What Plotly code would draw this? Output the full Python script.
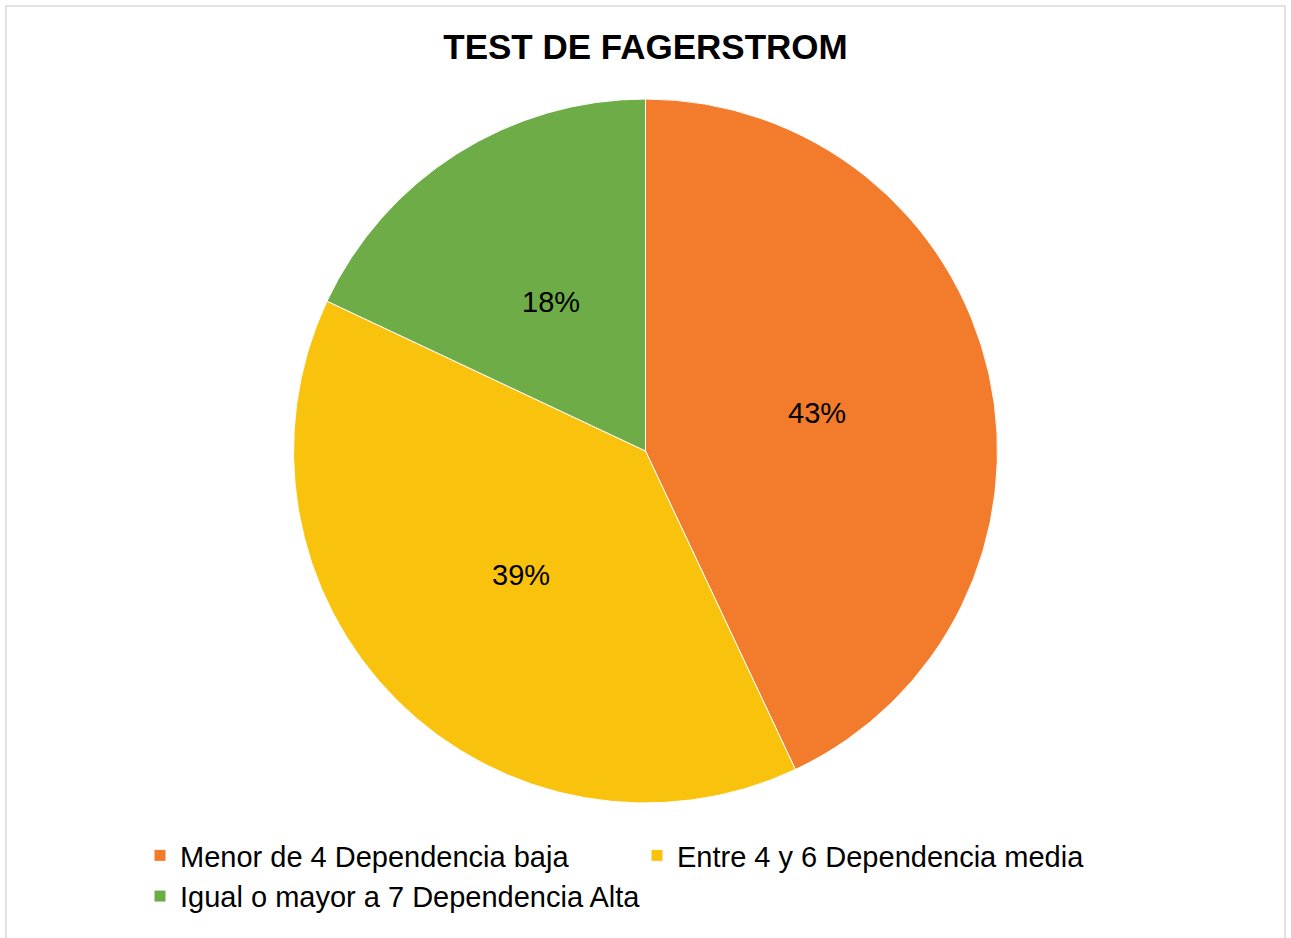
import math
import plotly.graph_objects as go

# Data
categories = ["Menor de 4 Dependencia baja", "Entre 4 y 6 Dependencia media", "Igual o mayor a 7 Dependencia Alta"]
values = [43, 39, 18]
colors = ["#F27B2C", "#F9C20C", "#6DAC46"]
title_text = "TEST DE FAGERSTROM"

W, H = 1291, 938
FONT = "Liberation Sans, Arial, sans-serif"

# pie geometry (paper fractions)
dom_y = [(H - 803) / H, (H - 99) / H]
cx, cy = 0.5, (dom_y[0] + dom_y[1]) / 2
R_px = (dom_y[1] - dom_y[0]) * H / 2

fig = go.Figure(
    go.Pie(
        labels=categories,
        values=values,
        sort=False,
        direction="clockwise",
        rotation=0,
        marker=dict(colors=colors, line=dict(color="white", width=1)),
        textinfo="none",
        domain=dict(x=[0, 1], y=dom_y),
        hoverinfo="label+percent",
    )
)

# percentage labels placed at half radius on each slice's mid-angle
total = sum(values)
annotations = []
cum = 0
for v in values:
    mid = (cum + v / 2) / total * 2 * math.pi
    cum += v
    r = 0.5 * R_px
    ax = cx + r * math.sin(mid) / W
    ay = cy + r * math.cos(mid) / H
    annotations.append(dict(
        x=ax, y=ay, xref="paper", yref="paper",
        text=f"{round(v / total * 100)}%", showarrow=False,
        xanchor="center", yanchor="middle",
        font=dict(family=FONT, size=29, color="black"),
    ))

fig.update_layout(
    width=W,
    height=H,
    margin=dict(l=0, r=0, t=0, b=0),
    paper_bgcolor="white",
    font=dict(family=FONT, color="black"),
    title=dict(
        text=title_text,
        x=0.5,
        xanchor="center",
        xref="paper",
        y=1 - 47 / H,
        yanchor="middle",
        yref="paper",
        font=dict(size=35, weight="bold", color="black"),
    ),
    legend=dict(
        orientation="h",
        x=140 / W,
        xanchor="left",
        y=1 - 830 / H,
        yanchor="top",
        entrywidth=452,
        entrywidthmode="pixels",
        font=dict(size=29, color="black"),
        bgcolor="rgba(0,0,0,0)",
    ),
    annotations=annotations,
    shapes=[
        dict(
            type="rect",
            xref="paper",
            yref="paper",
            x0=6 / W,
            x1=1285 / W,
            y0=-0.05,
            y1=1 - 6 / H,
            line=dict(color="#D9D9D9", width=1.5),
            fillcolor="rgba(0,0,0,0)",
            layer="below",
        )
    ],
)

fig.write_html(
    "out.html",
    config={"displayModeBar": False},
    post_script="document.body.style.margin='0';document.body.style.overflow='hidden';",
)
